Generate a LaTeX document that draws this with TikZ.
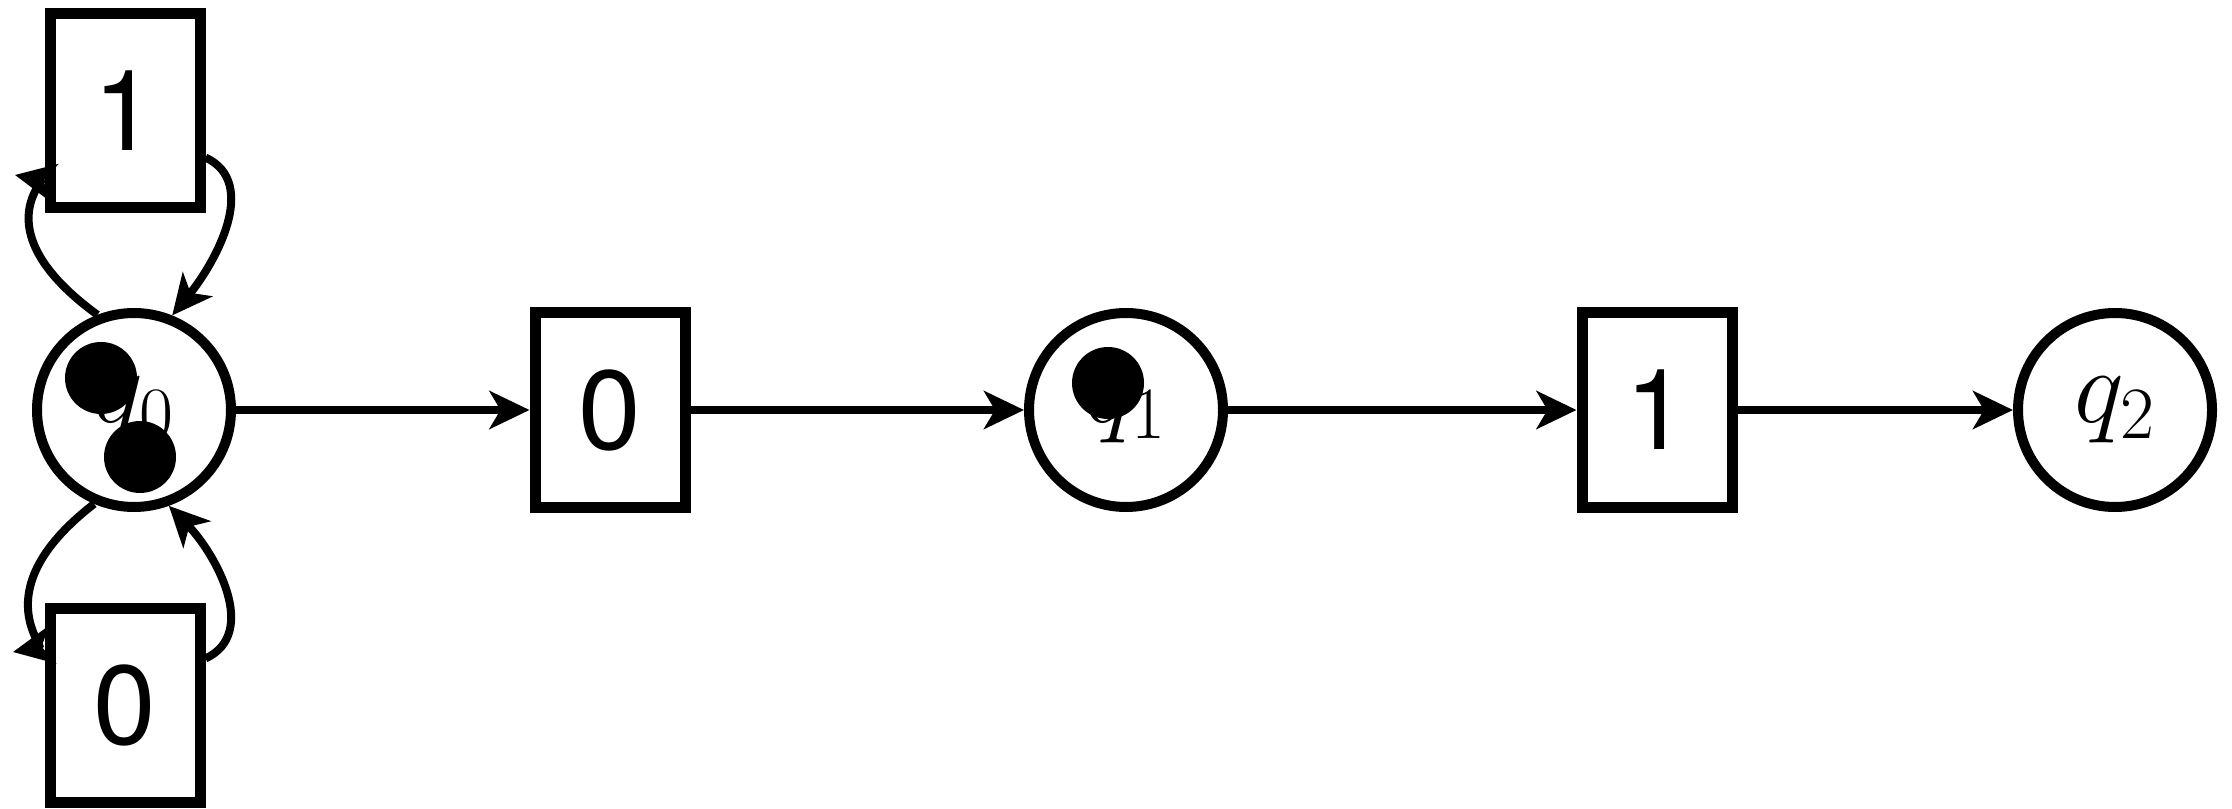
\documentclass[tikz,border=0pt]{standalone}
\usepackage{fix-cm}
\usepackage{fontspec}
\newfontfamily\boxfont{TeX Gyre Heros}
\usepackage{tikz}
\usetikzlibrary{arrows.meta, positioning}
\definecolor{mydark}{RGB}{0,0,0}
\tikzset{
  state/.style={circle, draw=mydark, fill=white, minimum size=1.94cm,
    inner sep=0pt, line width=0.1cm, font=\fontsize{30}{36}\selectfont},
  symbox/.style={rectangle, draw=mydark, fill=white, minimum width=1.5cm,
    minimum height=1.94cm, inner sep=0pt, line width=0.11cm,
    font=\boxfont\fontsize{32}{38}\selectfont},
  blob/.style={circle, fill=mydark, minimum size=0.72cm, inner sep=0pt},
  arrow/.style={-{Stealth[length=0.4cm, width=0.38cm, inset=0.11cm]},
    line width=0.08cm, color=mydark}
}

\begin{document}
\begin{tikzpicture}
  \useasboundingbox (0,0) rectangle (22.32,8.08);

  % States
  \node[state] (q0) at (1.34, 3.98) {$q_0$};
  \node[state] (q1) at (11.26, 3.98) {$q_1$};
  \node[state] (q2) at (21.15, 3.98) {$q_2$};

  % Input symbols
  \node[symbox] (top1) at (1.25, 6.97) {1};
  \node[symbox] (bot0) at (1.25, 1.03) {0};
  \node[symbox] (sym0) at (6.10, 3.98) {0};
  \node[symbox] (sym1) at (16.57, 3.98) {1};

  % Dots over the labels
  \node[blob] (d1) at (1.01, 4.30) {};
  \node[blob] (d2) at (1.40, 3.51) {};
  \node[blob] (d3) at (11.08, 4.25) {};

  % Main chain
  \draw[arrow] (q0) -- (sym0);
  \draw[arrow] (sym0) -- (q1);
  \draw[arrow] (q1) -- (sym1);
  \draw[arrow] (sym1) -- (q2);

  % Loops on q0
  \draw[arrow] (q0.111) .. controls (-0.15, 5.75) and (0.45, 6.27) .. (0.15, 6.33);
  \draw[arrow] (top1.-30) .. controls (2.6, 6.25) and (2.15, 5.45) .. (q0.68);
  \draw[arrow] (q0.-113) .. controls (-0.15, 2.20) and (0.45, 1.62) .. (0.13, 1.56);
  \draw[arrow] (bot0.30) .. controls (2.6, 1.75) and (2.15, 2.55) .. (q0.-70);
\end{tikzpicture}
\end{document}
